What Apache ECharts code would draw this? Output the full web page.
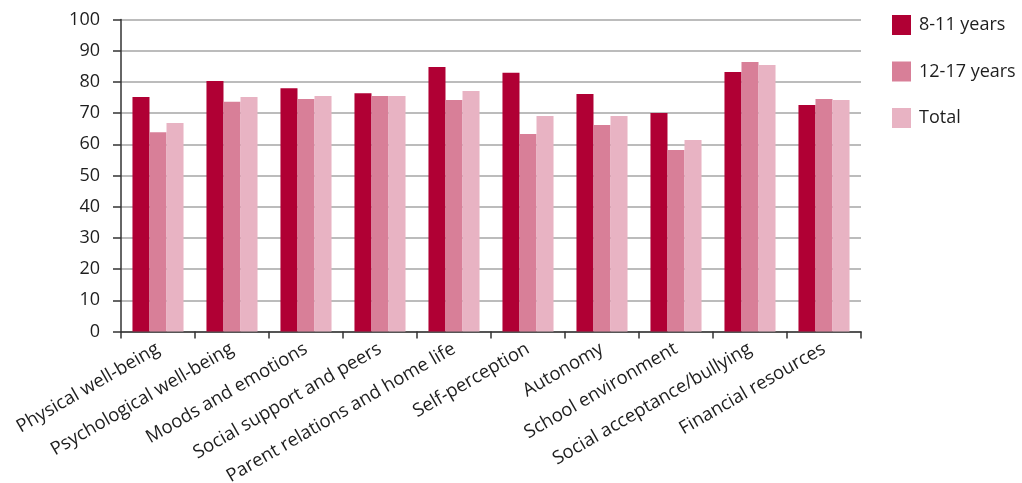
<!DOCTYPE html>
<html>
<head>
<meta charset="utf-8">
<script src="https://cdn.jsdelivr.net/npm/echarts@6/dist/echarts.min.js"></script>
<style>
  html, body { margin: 0; padding: 0; background: #fff; }
  #chart { width: 1022px; height: 483px; }
</style>
</head>
<body>
<div id="chart"></div>
<script>
// Quality-of-life domain scores by age group
const categories = [
  'Physical well-being', 'Psychological well-being', 'Moods and emotions',
  'Social support and peers', 'Parent relations and home life', 'Self-perception',
  'Autonomy', 'School environment', 'Social acceptance/bullying', 'Financial resources'
];
const seriesNames = ['8-11 years', '12-17 years', 'Total'];
const age8to11  = [75.2, 80.3, 78.0, 76.4, 84.8, 82.9, 76.1, 70.0, 83.2, 72.6];
const age12to17 = [63.9, 73.6, 74.5, 75.5, 74.2, 63.3, 66.2, 58.2, 86.4, 74.5];
const total     = [66.8, 75.2, 75.5, 75.5, 77.1, 69.1, 69.1, 61.4, 85.4, 74.2];
const yTicks = [0, 10, 20, 30, 40, 50, 60, 70, 80, 90, 100];

const colors = ['#B00034', '#D87F98', '#E8B3C3'];
const font = '"Open Sans", "DejaVu Sans", sans-serif';
const textColor = '#1e1e1e';

const chart = echarts.init(document.getElementById('chart'), null, { renderer: 'canvas' });

const values = [age8to11, age12to17, total];

chart.setOption({
  animation: false,
  color: colors,
  textStyle: { fontFamily: font },
  grid: {
    left: 121, right: 161, top: 19.5, bottom: 151.5,
    containLabel: false,
    outerBoundsMode: 'none'
  },
  legend: {
    orient: 'vertical',
    left: 892,
    top: 15,
    padding: 0,
    itemWidth: 19,
    itemHeight: 20,
    itemGap: 26.5,
    icon: 'rect',
    selectedMode: false,
    textStyle: { fontSize: 18, color: textColor, fontFamily: font, padding: [0, 0, 0, 3] },
    data: seriesNames
  },
  xAxis: {
    type: 'category',
    data: categories,
    axisLine: { lineStyle: { color: '#333', width: 1.5 } },
    axisTick: { show: true, length: 7, lineStyle: { color: '#333', width: 1.5 } },
    axisLabel: {
      rotate: 30,
      interval: 0,
      fontSize: 18.5,
      color: textColor,
      margin: 16,
      fontFamily: font
    }
  },
  yAxis: {
    type: 'value',
    min: yTicks[0],
    max: yTicks[yTicks.length - 1],
    interval: 10,
    axisLine: { show: true, lineStyle: { color: '#333', width: 1.5 } },
    axisTick: { show: true, length: 8, lineStyle: { color: '#333', width: 1.5 } },
    axisLabel: { fontSize: 18, color: textColor, margin: 21, fontFamily: font },
    splitLine: { show: true, lineStyle: { color: '#A6A6A6', width: 1.5 } }
  },
  series: seriesNames.map((name, i) => ({
    name,
    type: 'bar',
    data: values[i],
    barGap: '0%',
    barCategoryGap: '31%',
    itemStyle: { color: colors[i] }
  }))
});
</script>
</body>
</html>
